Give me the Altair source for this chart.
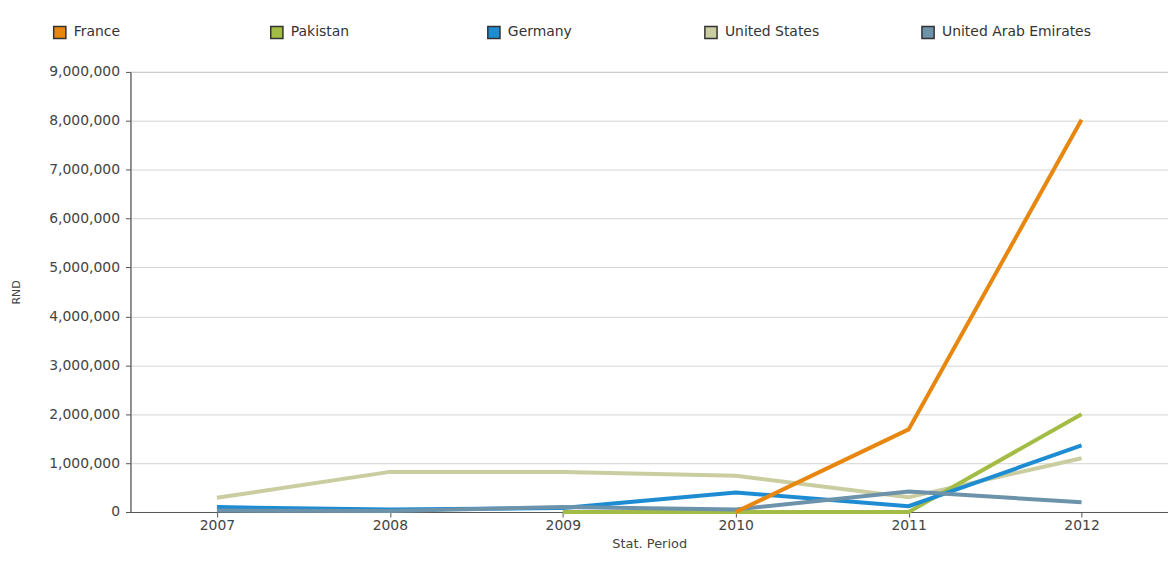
import altair as alt
import pandas as pd

years = ["2007", "2008", "2009", "2010", "2011", "2012"]
series_names = ["France", "Pakistan", "Germany", "United States", "United Arab Emirates"]
colors = ["#E8870F", "#A3BC45", "#1E8CD2", "#C9CDA0", "#6C93AA"]

france = [None, None, None, 0, 1690000, 8020000]
pakistan = [None, None, 0, 0, 0, 2000000]
germany = [100000, 50000, 80000, 400000, 120000, 1360000]
united_states = [290000, 820000, 820000, 740000, 300000, 1100000]
uae = [30000, 20000, 100000, 50000, 420000, 200000]

# drawing order (bottom to top)
draw_order = [
    ("United States", united_states),
    ("Pakistan", pakistan),
    ("Germany", germany),
    ("United Arab Emirates", uae),
    ("France", france),
]

rows = []
for z, (name, vals) in enumerate(draw_order):
    for y, v in zip(years, vals):
        if v is not None:
            rows.append({"year": y, "value": v, "series": name, "z": z})
df = pd.DataFrame(rows)

FONT = "DejaVu Sans"

x_enc = alt.X("year:O", title="Stat. Period", sort=years,
              axis=alt.Axis(labelAngle=0, labelFontSize=14, labelFont=FONT,
                            labelColor="#444", titleFontSize=13, titleFont=FONT,
                            titleColor="#444", titleFontWeight="normal",
                            domainColor="#555", tickColor="#555", tickSize=5,
                            titlePadding=5, grid=False))
y_enc = alt.Y("value:Q", title="RND",
              scale=alt.Scale(domain=[0, 9000000], nice=False),
              axis=alt.Axis(values=list(range(0, 9000001, 1000000)), format=",.0f",
                            labelFontSize=14, labelFont=FONT, labelColor="#444",
                            titleFontSize=11, titleFont=FONT, titleColor="#444",
                            titleFontWeight="normal", titleX=-114, titleY=221,
                            titleAngle=270, titleAlign="center", titleBaseline="middle",
                            domainColor="#555", tickColor="#555", tickSize=5,
                            gridColor="#d4d4d4", labelPadding=6))

lines = alt.Chart(df).mark_line(strokeWidth=4, interpolate="linear").encode(
    x=x_enc,
    y=y_enc,
    color=alt.Color("series:N", scale=alt.Scale(domain=series_names, range=colors),
                    legend=None),
    detail="series:N",
    order="z:Q",
)

legend_pts = alt.Chart(df).mark_point(shape="square", filled=True, size=0, opacity=1).encode(
    x=x_enc,
    y=y_enc,
    fill=alt.Fill("series:N", scale=alt.Scale(domain=series_names, range=colors),
                  legend=alt.Legend(title=None, orient="none", legendX=-78, legendY=-47,
                                    direction="horizontal", columns=5, gridAlign="all",
                                    columnPadding=44, symbolType="square", symbolSize=150,
                                    symbolStrokeColor="#333", symbolStrokeWidth=1.5,
                                    symbolOpacity=1, labelFontSize=14, labelFont=FONT,
                                    labelColor="#333", labelOffset=7, labelLimit=300)),
)

chart = alt.layer(lines, legend_pts).resolve_scale(color="independent").properties(
    width=1042,
    height=442,
    autosize=alt.AutoSizeParams(type="none"),
    padding={"left": 123, "top": 63, "right": 0, "bottom": 38},
    background="white",
).configure_view(stroke="#999", strokeWidth=1)

chart.save("out.html", embed_options={"renderer": "svg", "actions": False})
